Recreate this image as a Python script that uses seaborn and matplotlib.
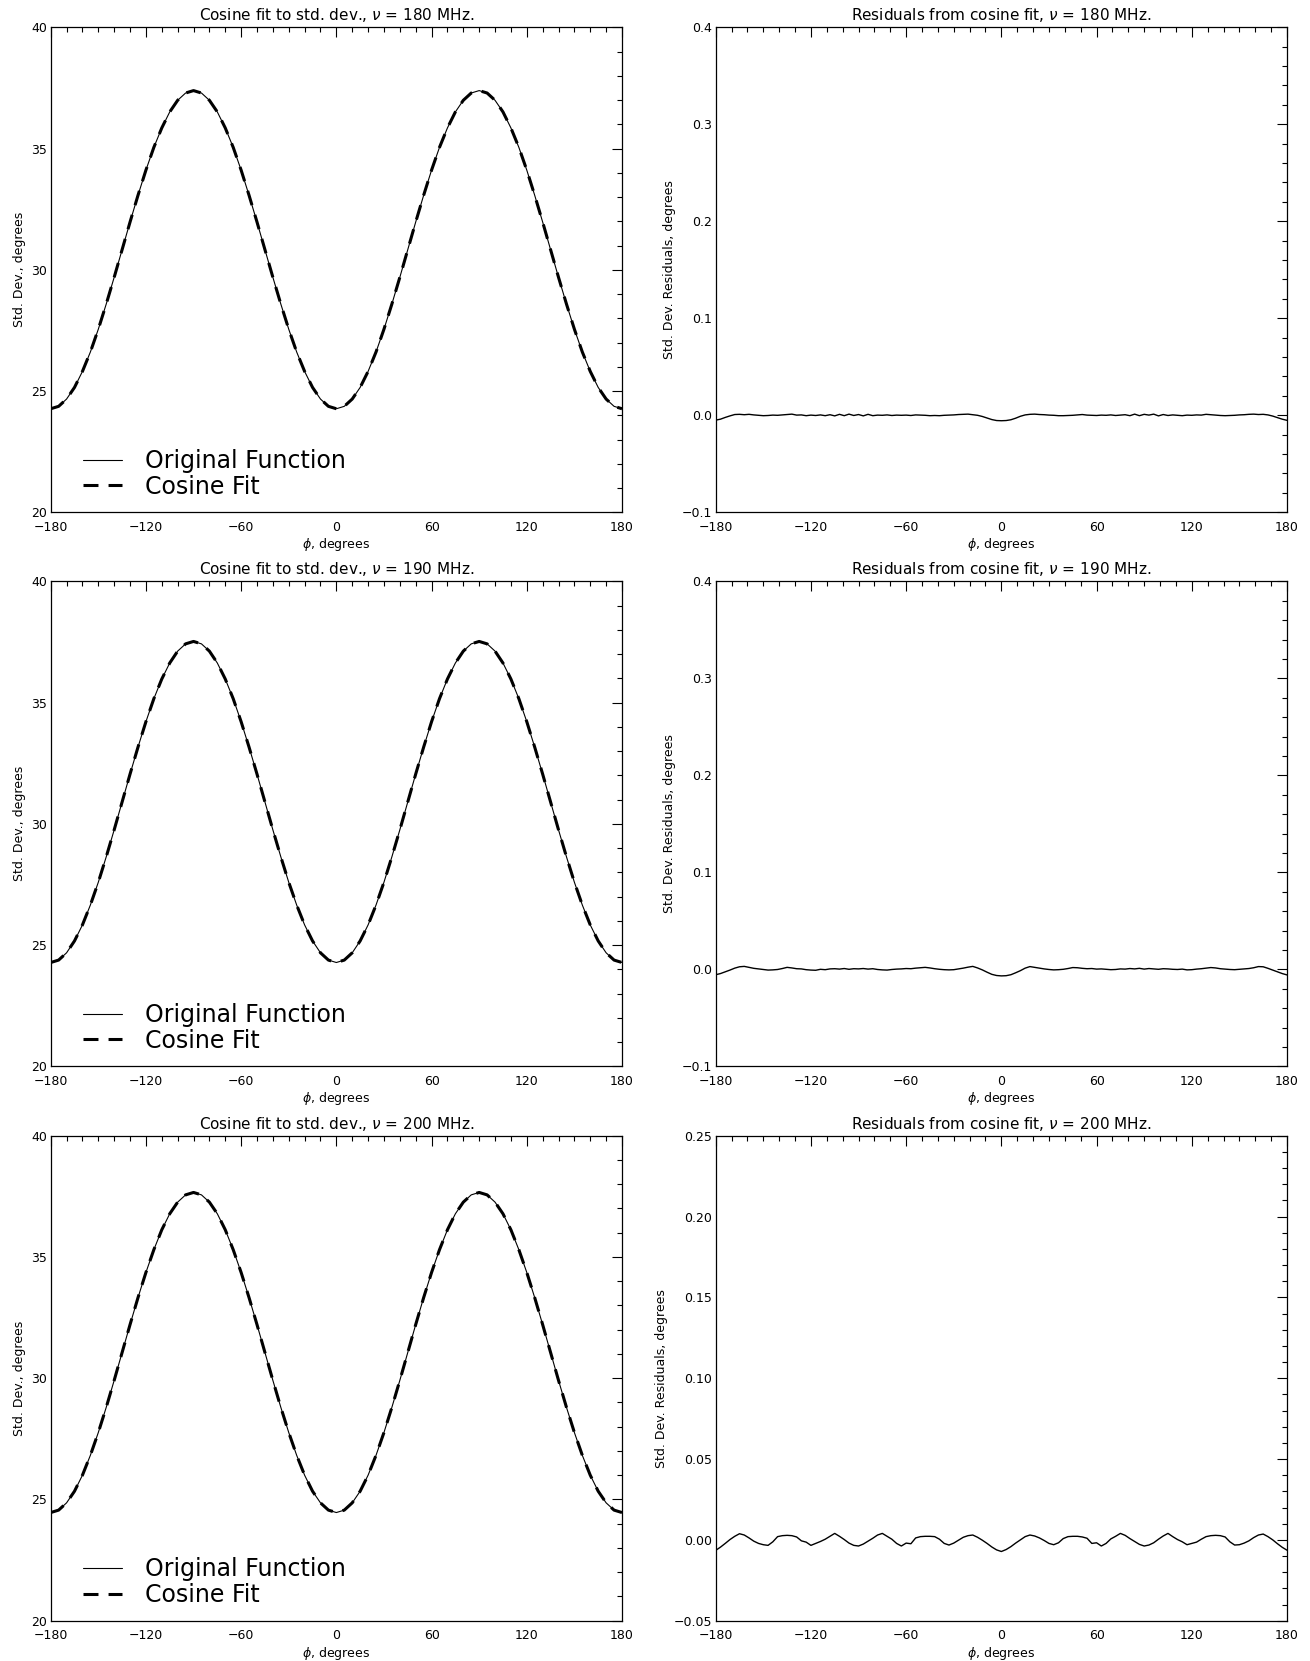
import numpy as np
import pandas as pd
import seaborn as sns
import matplotlib.pyplot as plt
from matplotlib.ticker import MultipleLocator

# ---- data ----
freqs = [180, 190, 200]

# std. dev. vs phi (5 degree steps); the cosine fit lies on top of these
phi_std = list(range(-180, 181, 5))
std_180 = [24.27, 24.37, 24.67, 25.15, 25.81, 26.61, 27.55, 28.59, 29.69, 30.83,
           31.97, 33.07, 34.11, 35.05, 35.85, 36.51, 36.99, 37.29, 37.39,
           37.29, 36.99, 36.51, 35.85, 35.05, 34.11, 33.07, 31.97, 30.83,
           29.69, 28.59, 27.55, 26.61, 25.81, 25.15, 24.67, 24.37, 24.27,
           24.37, 24.67, 25.15, 25.81, 26.61, 27.55, 28.59, 29.69, 30.83,
           31.97, 33.07, 34.11, 35.05, 35.85, 36.51, 36.99, 37.29, 37.39,
           37.29, 36.99, 36.51, 35.85, 35.05, 34.11, 33.07, 31.97, 30.83,
           29.69, 28.59, 27.55, 26.61, 25.81, 25.15, 24.67, 24.37, 24.27]
std_190 = [24.28, 24.38, 24.68, 25.17, 25.83, 26.65, 27.59, 28.64, 29.75, 30.90,
           32.05, 33.16, 34.21, 35.16, 35.97, 36.63, 37.12, 37.42, 37.52,
           37.42, 37.12, 36.63, 35.97, 35.16, 34.21, 33.16, 32.05, 30.90,
           29.75, 28.64, 27.59, 26.65, 25.83, 25.17, 24.68, 24.38, 24.28,
           24.38, 24.68, 25.17, 25.83, 26.65, 27.59, 28.64, 29.75, 30.90,
           32.05, 33.16, 34.21, 35.16, 35.97, 36.63, 37.12, 37.42, 37.52,
           37.42, 37.12, 36.63, 35.97, 35.16, 34.21, 33.16, 32.05, 30.90,
           29.75, 28.64, 27.59, 26.65, 25.83, 25.17, 24.68, 24.38, 24.28]
std_200 = [24.46, 24.56, 24.86, 25.34, 26.00, 26.82, 27.76, 28.80, 29.91, 31.06,
           32.21, 33.32, 34.36, 35.30, 36.12, 36.78, 37.26, 37.56, 37.66,
           37.56, 37.26, 36.78, 36.12, 35.30, 34.36, 33.32, 32.21, 31.06,
           29.91, 28.80, 27.76, 26.82, 26.00, 25.34, 24.86, 24.56, 24.46,
           24.56, 24.86, 25.34, 26.00, 26.82, 27.76, 28.80, 29.91, 31.06,
           32.21, 33.32, 34.36, 35.30, 36.12, 36.78, 37.26, 37.56, 37.66,
           37.56, 37.26, 36.78, 36.12, 35.30, 34.36, 33.32, 32.21, 31.06,
           29.91, 28.80, 27.76, 26.82, 26.00, 25.34, 24.86, 24.56, 24.46]

# residuals from the cosine fit (3 degree steps)
phi_res = list(range(-180, 181, 3))
res_180 = [-0.0050, -0.0040, -0.0022, -0.0006, 0.0008, 0.0010, 0.0006, 0.0010, 0.0004, 0.0000,
           -0.0004, -0.0002, 0.0002, 0.0000, 0.0004, 0.0008, 0.0012, 0.0002, 0.0004, -0.0004,
           0.0002, -0.0002, 0.0004, -0.0004, 0.0006, -0.0006, 0.0010, -0.0004, 0.0012, -0.0002,
           0.0008, -0.0006, 0.0010, -0.0004, 0.0002, 0.0000, 0.0004, -0.0002, 0.0002, 0.0000,
           0.0002, -0.0002, 0.0004, 0.0002, 0.0000, -0.0004, -0.0002, -0.0004, 0.0000, 0.0002,
           0.0004, 0.0008, 0.0010, 0.0012, 0.0006, 0.0000, -0.0012, -0.0028, -0.0044, -0.0054,
           -0.0056, -0.0054, -0.0046, -0.0030, -0.0010, 0.0004, 0.0010, 0.0012, 0.0008, 0.0006,
           0.0002, 0.0000, -0.0004, -0.0004, -0.0002, 0.0000, 0.0004, 0.0008, 0.0002, 0.0000,
           -0.0002, 0.0002, 0.0000, 0.0004, -0.0002, 0.0002, 0.0006, -0.0004, 0.0012, -0.0004,
           0.0010, 0.0002, 0.0012, -0.0006, 0.0008, -0.0002, 0.0004, 0.0000, -0.0004, 0.0002,
           0.0000, 0.0004, 0.0002, 0.0010, 0.0006, 0.0002, -0.0002, -0.0004, -0.0002, 0.0000,
           0.0004, 0.0006, 0.0010, 0.0012, 0.0008, 0.0010, 0.0004, -0.0008, -0.0024, -0.0040,
           -0.0052]
res_190 = [-0.0056, -0.0044, -0.0026, -0.0008, 0.0012, 0.0026, 0.0030, 0.0020, 0.0010, 0.0004,
           -0.0002, -0.0008, -0.0006, -0.0002, 0.0008, 0.0020, 0.0014, 0.0006, 0.0004, -0.0004,
           -0.0008, -0.0010, 0.0000, -0.0004, 0.0004, 0.0006, 0.0002, 0.0008, 0.0000, 0.0006,
           0.0004, 0.0008, 0.0002, 0.0006, -0.0002, -0.0006, -0.0008, -0.0002, 0.0002, 0.0004,
           0.0008, 0.0006, 0.0012, 0.0016, 0.0020, 0.0014, 0.0006, 0.0000, -0.0004, -0.0006,
           -0.0004, 0.0004, 0.0012, 0.0022, 0.0030, 0.0014, -0.0006, -0.0030, -0.0052, -0.0064,
           -0.0068, -0.0066, -0.0056, -0.0036, -0.0014, 0.0012, 0.0028, 0.0020, 0.0012, 0.0004,
           -0.0002, -0.0006, -0.0004, 0.0000, 0.0008, 0.0018, 0.0016, 0.0010, 0.0006, 0.0008,
           0.0002, 0.0004, 0.0000, -0.0004, -0.0002, 0.0004, 0.0002, 0.0008, 0.0004, 0.0010,
           0.0002, 0.0008, 0.0004, 0.0000, 0.0006, 0.0004, 0.0000, -0.0002, 0.0002, -0.0006,
           -0.0004, 0.0002, 0.0006, 0.0012, 0.0018, 0.0014, 0.0006, 0.0002, -0.0002, -0.0004,
           0.0000, 0.0004, 0.0008, 0.0016, 0.0028, 0.0026, 0.0010, -0.0008, -0.0026, -0.0044,
           -0.0058]
res_200 = [-0.0065, -0.0045, -0.0022, 0.0002, 0.0022, 0.0038, 0.0030, 0.0012, -0.0008, -0.0022,
           -0.0030, -0.0034, -0.0012, 0.0020, 0.0026, 0.0028, 0.0026, 0.0018, -0.0006, -0.0014,
           -0.0034, -0.0022, -0.0010, 0.0004, 0.0022, 0.0040, 0.0022, 0.0002, -0.0020, -0.0034,
           -0.0038, -0.0026, -0.0008, 0.0010, 0.0030, 0.0040, 0.0022, 0.0004, -0.0022, -0.0038,
           -0.0020, -0.0024, 0.0012, 0.0020, 0.0022, 0.0022, 0.0020, 0.0004, -0.0022, -0.0032,
           -0.0020, -0.0002, 0.0016, 0.0026, 0.0030, 0.0016, -0.0002, -0.0022, -0.0044, -0.0062,
           -0.0072, -0.0060, -0.0042, -0.0020, 0.0000, 0.0020, 0.0030, 0.0024, 0.0012, -0.0004,
           -0.0022, -0.0030, -0.0018, 0.0008, 0.0020, 0.0022, 0.0022, 0.0018, 0.0010, -0.0022,
           -0.0018, -0.0038, -0.0022, 0.0006, 0.0022, 0.0040, 0.0028, 0.0008, -0.0010, -0.0028,
           -0.0038, -0.0032, -0.0018, 0.0004, 0.0024, 0.0040, 0.0020, 0.0002, -0.0012, -0.0030,
           -0.0022, -0.0014, 0.0004, 0.0020, 0.0026, 0.0028, 0.0026, 0.0018, -0.0012, -0.0032,
           -0.0030, -0.0020, -0.0006, 0.0014, 0.0030, 0.0036, 0.0020, 0.0000, -0.0024, -0.0046,
           -0.0064]

x_ticks = [-180, -120, -60, 0, 60, 120, 180]
x_labels = ['\u2212180', '\u2212120', '\u221260', '0', '60', '120', '180']
std_ticks = [20, 25, 30, 35, 40]
std_labels = ['20', '25', '30', '35', '40']
res_ticks_a = [-0.1, 0.0, 0.1, 0.2, 0.3, 0.4]
res_labels_a = ['\u22120.1', '0.0', '0.1', '0.2', '0.3', '0.4']
res_ticks_b = [-0.05, 0.0, 0.05, 0.10, 0.15, 0.20, 0.25]
res_labels_b = ['\u22120.05', '0.00', '0.05', '0.10', '0.15', '0.20', '0.25']

std_data = {180: std_180, 190: std_190, 200: std_200}
res_data = {180: res_180, 190: res_190, 200: res_200}
res_axes = {180: (res_ticks_a, res_labels_a, 0.02),
            190: (res_ticks_a, res_labels_a, 0.02),
            200: (res_ticks_b, res_labels_b, 0.01)}

sns.set_theme(style="white")
plt.rcParams['font.family'] = ['DejaVu Sans']
plt.rcParams['mathtext.fontset'] = 'dejavusans'
plt.rcParams['text.color'] = 'black'
plt.rcParams['axes.labelcolor'] = 'black'

W, H = 1310, 1661
fig = plt.figure(figsize=(W / 100, H / 100), dpi=100)

FS = 9


def style_axis(ax, yticks, ylabels, yminor):
    ax.set_xlim(-180, 180)
    ax.set_ylim(yticks[0], yticks[-1])
    ax.set_xticks(x_ticks)
    ax.set_xticklabels(x_labels)
    ax.set_yticks(yticks)
    ax.set_yticklabels(ylabels)
    ax.xaxis.set_minor_locator(MultipleLocator(10))
    ax.yaxis.set_minor_locator(MultipleLocator(yminor))
    ax.tick_params(which='both', direction='in', top=True, right=True,
                   color='black', width=0.8, labelsize=FS, labelcolor='black')
    ax.tick_params(which='major', length=7.2)
    ax.tick_params(which='minor', length=3.6)
    ax.tick_params(axis='x', pad=6)
    ax.tick_params(axis='y', pad=2.5)
    for s in ax.spines.values():
        s.set_color('black')
        s.set_linewidth(0.9)
    ax.set_xlabel('$\\phi$, degrees', fontsize=FS, labelpad=2, color='black')


lefts = [50.7, 715.7]
tops = [27.3, 581.3, 1135.7]
aw, ah = 571.3, 485.0

for i, f in enumerate(freqs):
    top = tops[i]
    # left: std. dev. with cosine fit
    ax = fig.add_axes([lefts[0] / W, 1 - (top + ah) / H, aw / W, ah / H])
    df = pd.DataFrame({'phi': phi_std, 'std': std_data[f]})
    sns.lineplot(data=df, x='phi', y='std', ax=ax, color='black', lw=0.8,
                 estimator=None, label='Original Function')
    sns.lineplot(data=df, x='phi', y='std', ax=ax, color='black', lw=2.2,
                 estimator=None, linestyle=(0, (4.9, 3.3)), label='Cosine Fit')
    style_axis(ax, std_ticks, std_labels, 1)
    ax.set_ylabel('Std. Dev., degrees', fontsize=FS, labelpad=4, color='black')
    ax.set_title(f'Cosine fit to std. dev., $\\nu$ = {f} MHz.', fontsize=11,
                 pad=5, color='black')
    ax.legend(loc='lower left', bbox_to_anchor=(0.056, 0.028), frameon=False,
              fontsize=17, handlelength=1.65, handletextpad=1.0,
              labelspacing=0.08, borderpad=0, borderaxespad=0,
              labelcolor='black')

    # right: residuals
    ax = fig.add_axes([lefts[1] / W, 1 - (top + ah) / H, aw / W, ah / H])
    dr = pd.DataFrame({'phi': phi_res, 'res': res_data[f]})
    sns.lineplot(data=dr, x='phi', y='res', ax=ax, color='black', lw=1.0,
                 estimator=None)
    yt, yl, ym = res_axes[f]
    style_axis(ax, yt, yl, ym)
    ax.set_ylabel('Std. Dev. Residuals, degrees', fontsize=FS, labelpad=4, color='black')
    ax.set_title(f'Residuals from cosine fit, $\\nu$ = {f} MHz.', fontsize=11,
                 pad=5, color='black')

fig.savefig('out.png', dpi=100)
